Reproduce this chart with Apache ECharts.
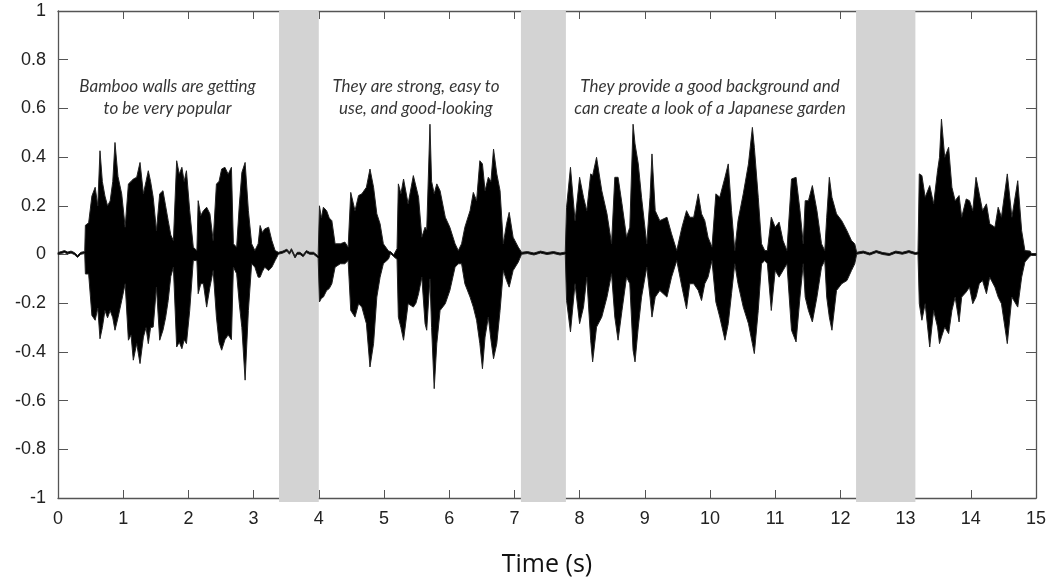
<!DOCTYPE html>
<html>
<head>
<meta charset="utf-8">
<script src="https://cdn.jsdelivr.net/npm/echarts@6/dist/echarts.min.js"></script>
<style>html,body{margin:0;padding:0;background:#fff}#c{width:1050px;height:583px}</style>
</head>
<body>
<div id="c"></div>
<script>
// Waveform envelope: time (s), upper and lower amplitude
const times = [
 0,0.05,0.1,0.15,0.2,0.25,0.3,0.35,0.41,
 0.42,0.47,0.52,0.57,0.61,0.644,0.68,0.72,0.76,0.80,0.84,0.874,0.92,0.977,1.03,1.08,1.12,1.155,1.207,1.258,1.31,1.35,1.385,1.42,1.46,1.51,1.56,1.61,1.65,1.69,1.73,1.77,1.82,1.86,1.90,1.935,1.97,2.02,2.075,2.13,2.15,2.19,2.23,2.28,2.33,2.38,2.43,2.47,2.51,2.56,2.61,2.66,2.69,2.74,2.78,2.82,2.87,2.92,2.97,3.02,3.07,3.10,3.135,3.17,3.23,3.28,3.33,3.38,
 3.45,3.51,3.55,3.58,3.635,3.67,3.71,3.76,3.81,3.86,3.92,3.99,
 4.01,4.04,4.07,4.12,4.16,4.20,4.25,4.33,4.40,4.45,4.49,4.555,4.61,4.66,4.73,4.785,4.84,4.89,4.94,4.99,5.07,5.1,5.15,5.2,
 5.22,5.26,5.30,5.37,5.45,5.49,5.53,5.58,5.63,5.655,5.705,5.73,5.77,5.81,5.86,5.94,6.01,6.09,6.14,6.19,6.24,6.32,6.37,6.42,6.47,6.51,6.55,6.60,6.64,6.68,6.73,6.78,6.83,6.88,6.92,6.98,7.06,7.11,
 7.2,7.3,7.4,7.5,7.6,7.7,7.78,
 7.80,7.86,7.93,8.0,8.06,8.11,8.17,8.20,8.26,8.34,8.42,8.49,8.54,8.59,8.65,8.72,8.77,8.82,8.85,8.90,8.95,9.03,9.08,9.11,9.16,9.23,9.34,9.41,9.49,9.57,9.64,9.69,9.75,9.82,9.87,9.92,9.97,10.03,10.09,10.15,10.23,10.28,10.33,10.38,10.43,10.51,10.59,10.65,10.68,10.74,10.79,10.84,10.88,10.94,11.0,11.06,11.12,11.18,11.25,11.32,11.38,11.43,11.46,11.51,11.57,11.64,11.71,11.76,11.79,11.83,11.87,11.94,12.02,12.10,12.17,12.22,12.25,
 12.35,12.45,12.55,12.65,12.75,12.85,12.95,13.05,13.15,13.19,
 13.21,13.25,13.30,13.37,13.43,13.49,13.52,13.55,13.60,13.66,13.71,13.76,13.82,13.86,13.93,13.98,14.03,14.08,14.13,14.18,14.24,14.29,14.37,14.42,14.47,14.56,14.63,14.72,14.78,14.83,14.91,14.93,15
];
const upper = [
 0.008,0.012,0.016,0.01,0.014,0.008,-0.004,0.009,0.012,
 0.12,0.13,0.24,0.276,0.2,0.426,0.3,0.24,0.2,0.22,0.3,0.46,0.32,0.249,0.112,0.29,0.3,0.31,0.317,0.378,0.249,0.3,0.344,0.3,0.235,0.098,0.249,0.262,0.2,0.139,0.08,0.057,0.385,0.33,0.358,0.3,0.344,0.18,0.03,0.016,0.221,0.16,0.18,0.194,0.167,0.057,0.29,0.3,0.351,0.358,0.33,0.358,0.044,0.03,0.2,0.337,0.378,0.18,0.044,0.016,0.044,0.119,0.09,0.105,0.112,0.057,0.016,0.009,
 0.014,0.022,0.009,0.024,-0.006,0.009,0.009,-0.001,0.016,0.009,0.009,-0.006,
 0.2,0.15,0.194,0.18,0.15,0.139,0.044,0.044,0.051,0.03,0.255,0.18,0.242,0.249,0.276,0.351,0.276,0.167,0.126,0.044,0.014,0.012,-0.001,0.024,
 0.29,0.25,0.31,0.208,0.324,0.28,0.235,0.071,0.112,0.1,0.535,0.3,0.25,0.29,0.262,0.153,0.112,0.044,0.016,0.044,0.112,0.18,0.255,0.221,0.385,0.372,0.262,0.317,0.3,0.433,0.331,0.262,0.044,0.126,0.173,0.071,0.03,0.009,
 0.012,0.006,0.014,0.008,0.012,0.006,0.01,
 0.194,0.358,0.139,0.317,0.235,0.18,0.331,0.324,0.399,0.262,0.167,0.044,0.317,0.317,0.208,0.071,0.112,0.535,0.454,0.372,0.235,0.044,0.235,0.413,0.18,0.139,0.153,0.085,0.016,0.112,0.18,0.153,0.153,0.249,0.167,0.139,0.071,0.03,0.249,0.235,0.317,0.372,0.18,0.016,0.139,0.249,0.372,0.522,0.44,0.235,0.044,0.016,0.016,0.153,0.112,0.133,0.057,0.016,0.31,0.317,0.18,0.044,0.221,0.221,0.283,0.18,0.044,0.016,0.153,0.317,0.235,0.167,0.139,0.098,0.057,0.044,0.009,
 0.014,0.006,0.016,0.008,0.004,0.014,0.009,0.016,0.008,0.01,
 0.331,0.324,0.235,0.283,0.208,0.344,0.399,0.556,0.399,0.44,0.276,0.221,0.242,0.153,0.228,0.221,0.18,0.317,0.249,0.18,0.208,0.126,0.112,0.194,0.153,0.331,0.153,0.303,0.098,0.016,0.014,0.004,0.004
];
const lower = [
 0.0,0.004,0.008,0.002,0.006,0.0,-0.012,0.001,0.004,
 -0.08,-0.08,-0.25,-0.27,-0.22,-0.346,-0.3,-0.23,-0.26,-0.23,-0.26,-0.311,-0.26,-0.189,-0.12,-0.352,-0.33,-0.434,-0.366,-0.448,-0.339,-0.3,-0.366,-0.3,-0.298,-0.134,-0.352,-0.311,-0.26,-0.189,-0.09,-0.052,-0.38,-0.36,-0.387,-0.35,-0.366,-0.23,-0.025,-0.025,-0.161,-0.12,-0.12,-0.216,-0.134,-0.066,-0.257,-0.36,-0.393,-0.35,-0.33,-0.35,-0.052,-0.079,-0.2,-0.3,-0.516,-0.23,-0.038,-0.052,-0.093,-0.093,-0.07,-0.052,-0.066,-0.052,-0.025,0.001,
 0.006,0.014,0.001,0.016,-0.014,0.001,0.001,-0.009,0.008,0.001,0.001,-0.014,
 -0.195,-0.18,-0.175,-0.148,-0.14,-0.12,-0.052,-0.038,-0.038,-0.025,-0.23,-0.257,-0.202,-0.216,-0.284,-0.462,-0.366,-0.175,-0.093,-0.038,-0.018,0.004,-0.009,-0.02,
 -0.257,-0.3,-0.352,-0.202,-0.216,-0.2,-0.161,-0.093,-0.284,-0.311,-0.1,-0.3,-0.551,-0.366,-0.23,-0.202,-0.148,-0.052,-0.038,-0.038,-0.12,-0.175,-0.216,-0.27,-0.366,-0.469,-0.339,-0.257,-0.35,-0.428,-0.366,-0.23,-0.066,-0.107,-0.134,-0.066,-0.031,0.001,
 0.004,-0.002,0.006,0.0,0.004,-0.002,0.002,
 -0.189,-0.318,-0.12,-0.284,-0.216,-0.093,-0.352,-0.441,-0.298,-0.257,-0.175,-0.079,-0.257,-0.352,-0.23,-0.093,-0.12,-0.393,-0.441,-0.298,-0.175,-0.052,-0.175,-0.257,-0.175,-0.148,-0.175,-0.093,-0.025,-0.134,-0.223,-0.12,-0.12,-0.148,-0.189,-0.12,-0.093,-0.025,-0.195,-0.257,-0.352,-0.284,-0.161,-0.038,-0.12,-0.216,-0.284,-0.366,-0.407,-0.23,-0.038,-0.025,-0.038,-0.23,-0.066,-0.093,-0.066,-0.038,-0.311,-0.359,-0.175,-0.038,-0.175,-0.23,-0.277,-0.175,-0.052,-0.025,-0.175,-0.257,-0.311,-0.148,-0.12,-0.107,-0.066,-0.038,0.001,
 0.006,-0.002,0.008,0.0,-0.004,0.006,0.001,0.008,0.0,0.002,
 -0.202,-0.27,-0.202,-0.38,-0.23,-0.298,-0.366,-0.339,-0.298,-0.325,-0.23,-0.175,-0.277,-0.175,-0.154,-0.134,-0.202,-0.175,-0.12,-0.107,-0.161,-0.093,-0.134,-0.175,-0.202,-0.366,-0.175,-0.216,-0.093,-0.031,-0.006,-0.004,-0.004
];
// Pauses shaded in grey (start, end in seconds)
const pauses = [[3.39, 4.0], [7.1, 7.79], [12.24, 13.15]];
// Captions: text lines and anchor (time, amplitude)
const captions = [
  {x: 1.68, y: 0.645, text: 'Bamboo walls are getting\nto be very popular'},
  {x: 5.49, y: 0.645, text: 'They are strong, easy to\nuse, and good-looking'},
  {x: 10.0, y: 0.645, text: 'They provide a good background and\ncan create a look of a Japanese garden'}
];
const xTicks = {min: 0, max: 15, interval: 1};
const yTicks = {min: -1, max: 1, interval: 0.2};

const chart = echarts.init(document.getElementById('c'), null, {renderer: 'canvas'});
const waveData = times.map((t, i) => [t, upper[i], lower[i]]);
const pauseData = pauses.map(p => [p[0], p[1]]);
const axisCol = '#555';
const labelStyle = {color: '#222', fontSize: 18, fontFamily: 'Liberation Sans, Arial, sans-serif'};

// Grey pause band for each pause
function renderPause(params, api) {
  const a = api.coord([api.value(0), yTicks.max]);
  const b = api.coord([api.value(1), yTicks.min]);
  return {
    type: 'rect', silent: true,
    shape: {x: a[0], y: a[1] - 1, width: b[0] - a[0], height: b[1] - a[1] + 5},
    style: {fill: '#d3d3d3'}
  };
}
// One filled polygon: upper envelope left→right, lower envelope right→left
function renderWave(params, api) {
  if (params.dataIndex !== 0) return null;
  const pts = [];
  for (let i = 0; i < waveData.length; i++) pts.push(api.coord([waveData[i][0], waveData[i][1]]));
  for (let i = waveData.length - 1; i >= 0; i--) pts.push(api.coord([waveData[i][0], waveData[i][2]]));
  return {
    type: 'polygon', silent: true,
    shape: {points: pts},
    style: {fill: '#000', stroke: '#222', lineWidth: 1, lineJoin: 'round'}
  };
}

chart.setOption({
  animation: false,
  backgroundColor: '#fff',
  grid: {left: 58, right: 14, top: 11, bottom: 85},
  xAxis: [{
    type: 'value', min: xTicks.min, max: xTicks.max, interval: xTicks.interval, position: 'bottom',
    name: 'Time (s)', nameLocation: 'middle', nameGap: 54,
    nameTextStyle: {color: '#111', fontSize: 25, fontFamily: 'Open Sans, sans-serif'},
    axisLine: {onZero: false, lineStyle: {color: axisCol, width: 1.3}},
    axisTick: {inside: true, length: 8, lineStyle: {color: axisCol}},
    axisLabel: Object.assign({margin: 12}, labelStyle),
    splitLine: {show: false}
  }, {
    type: 'value', min: xTicks.min, max: xTicks.max, interval: xTicks.interval, position: 'top',
    axisLine: {onZero: false, lineStyle: {color: axisCol, width: 1.3}},
    axisTick: {inside: true, length: 8, lineStyle: {color: axisCol}},
    axisLabel: {show: false}, splitLine: {show: false}
  }],
  yAxis: [{
    type: 'value', min: yTicks.min, max: yTicks.max, interval: yTicks.interval, position: 'left',
    axisLine: {onZero: false, lineStyle: {color: axisCol, width: 1.3}},
    axisTick: {inside: true, length: 10, lineStyle: {color: axisCol}},
    axisLabel: Object.assign({margin: 12}, labelStyle),
    splitLine: {show: false}
  }, {
    type: 'value', min: yTicks.min, max: yTicks.max, interval: yTicks.interval, position: 'right',
    axisLine: {onZero: false, lineStyle: {color: axisCol, width: 1.3}},
    axisTick: {inside: true, length: 10, lineStyle: {color: axisCol}},
    axisLabel: {show: false}, splitLine: {show: false}
  }],
  series: [
    {
      type: 'custom', data: pauseData, renderItem: renderPause, z: 2, silent: true,
      clip: false, encode: {x: [0, 1]}
    },
    {
      type: 'custom', data: waveData, renderItem: renderWave, z: 4, silent: true,
      clip: false, encode: {x: 0, y: [1, 2]}
    },
    {
      type: 'scatter', symbolSize: 0, silent: true, z: 5,
      data: captions.map(c => [c.x, c.y]),
      label: {
        show: true, position: 'inside',
        formatter: p => captions[p.dataIndex].text,
        color: '#000', fontSize: 17, fontStyle: 'italic', lineHeight: 22,
        fontFamily: 'Lato, sans-serif', align: 'center', verticalAlign: 'middle'
      }
    }
  ]
});
</script>
</body>
</html>
